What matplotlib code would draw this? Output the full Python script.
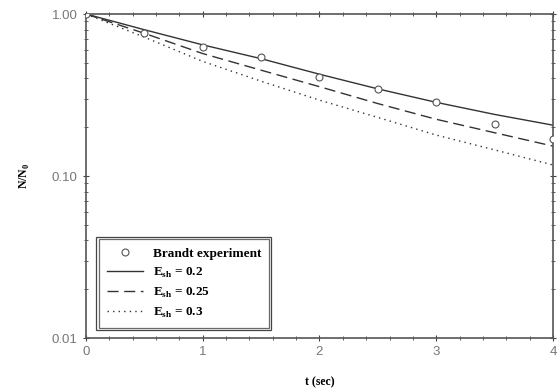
import matplotlib
matplotlib.use('Agg')
import matplotlib.pyplot as plt
from matplotlib.patches import Rectangle
import numpy as np

# Brandt experiment points
t_exp = [0.0, 0.5, 1.0, 1.5, 2.0, 2.5, 3.0, 3.5, 4.0]
n_exp = [1.0, 0.76, 0.63, 0.54, 0.41, 0.344, 0.286, 0.21, 0.169]

# model curves
t_mod = [0.0, 0.5, 1.0, 1.5, 2.0, 2.5, 3.0, 3.5, 4.0]
n_02 = [1.0, 0.80, 0.645, 0.53, 0.425, 0.345, 0.285, 0.24, 0.206]
n_025 = [1.0, 0.76, 0.57, 0.45, 0.356, 0.28, 0.224, 0.185, 0.153]
n_03 = [1.0, 0.72, 0.51, 0.385, 0.294, 0.23, 0.179, 0.145, 0.117]

labels = ['Brandt experiment', r'E$_{\mathbf{sh}}$ = 0.2',
          r'E$_{\mathbf{sh}}$ = 0.25', r'E$_{\mathbf{sh}}$ = 0.3']

plt.rcParams['mathtext.fontset'] = 'custom'
plt.rcParams['mathtext.rm'] = 'Liberation Serif:bold'
plt.rcParams['mathtext.bf'] = 'Liberation Serif:bold'

fig = plt.figure(figsize=(5.58, 3.89), dpi=100)
ax = fig.add_axes([0.154, 0.131, 0.837, 0.833])

lc = '#333333'
ax.plot(t_exp, n_exp, 'o', mfc='white', mec='#555555', ms=5, mew=0.8,
        label=labels[0], zorder=4)
ax.plot(t_mod, n_02, '-', color=lc, lw=1.0, label=labels[1])
ax.plot(t_mod, n_025, color=lc, lw=1.0, dashes=(8, 4), label=labels[2])
ax.plot(t_mod, n_03, color=lc, lw=1.0, dashes=(1, 3), label=labels[3])

ax.set_yscale('log')
ax.set_ylim(0.01, 1.0)
ax.set_xlim(0, 4)
ax.set_xticks([0, 1, 2, 3, 4])
ax.set_xticks(np.arange(0, 4.01, 0.2), minor=True)
ax.set_yticks([0.01, 0.1, 1.0])
ax.set_yticklabels(['0.01', '0.10', '1.00'])
ax.tick_params(which='both', direction='inout', top=True, right=True,
               colors='#444444', labelsize=9.5)
ax.tick_params(which='major', length=5)
ax.tick_params(which='minor', length=3)
for lab in ax.get_xticklabels() + ax.get_yticklabels():
    lab.set_fontfamily('Liberation Sans')
    lab.set_color('#777777')
for s in ax.spines.values():
    s.set_linewidth(1.2)
    s.set_color('#555555')

ax.set_xlabel('t (sec)', fontfamily='Liberation Serif', fontweight='bold',
              fontsize=8.5, labelpad=13)
ax.set_ylabel(r'N/N$_0$', fontfamily='Liberation Serif', fontweight='bold',
              fontsize=8.5, labelpad=14)

leg = ax.legend(loc='lower left', bbox_to_anchor=(0.013, 0.012),
                prop={'family': 'Liberation Serif', 'weight': 'bold', 'size': 9.5},
                frameon=True, fancybox=False, handlelength=2.8,
                labelspacing=0.45, borderpad=0.6, handletextpad=0.7)
leg.get_frame().set_edgecolor('#444444')
leg.get_frame().set_linewidth(0.9)

fig.canvas.draw()
bb = leg.get_window_extent().transformed(fig.transFigure.inverted())
dx = 2.5 / 558
dy = 2.5 / 389
fig.patches.append(Rectangle((bb.x0 - dx, bb.y0 - dy), bb.width + 2 * dx,
                             bb.height + 2 * dy, transform=fig.transFigure,
                             fill=False, ec='#444444', lw=0.9))

fig.savefig('out.png', dpi=100)
